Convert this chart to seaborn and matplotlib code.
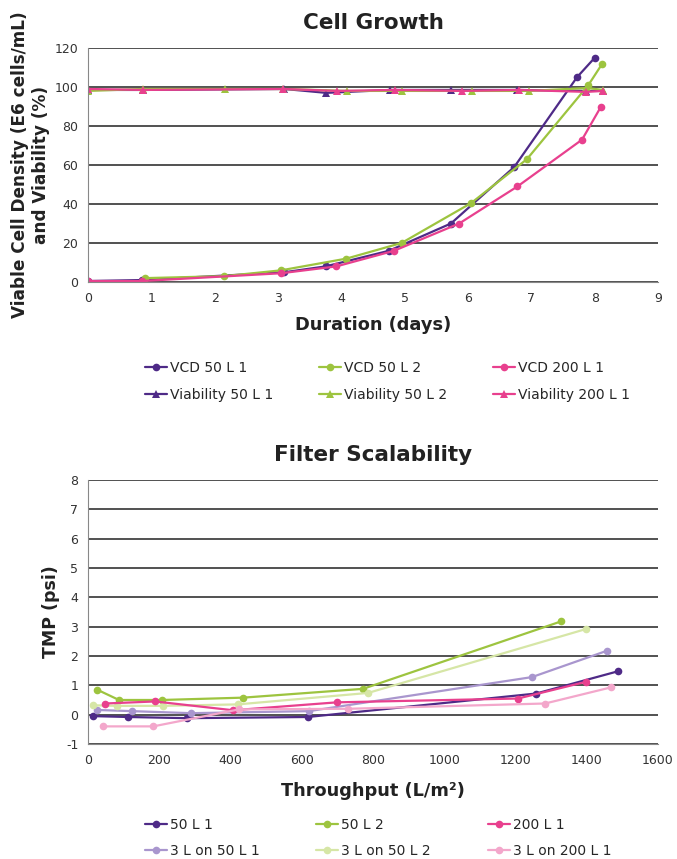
import matplotlib
matplotlib.use("Agg")
import matplotlib.pyplot as plt
import seaborn as sns

# Cell growth data (days, value)
vcd_50L1_day = [0, 0.85, 3.1, 3.75, 4.75, 5.73, 6.73, 7.72, 8.0]
vcd_50L1_val = [0.5, 1, 5, 8, 16, 30, 59, 105, 115]
vcd_50L2_day = [0.9, 2.15, 3.05, 4.08, 4.95, 6.05, 6.93, 7.9, 8.12]
vcd_50L2_val = [2, 3, 6, 12, 20, 40.5, 63, 101, 112]
vcd_200L1_day = [0, 0.85, 3.05, 3.92, 4.83, 5.86, 6.78, 7.8, 8.1]
vcd_200L1_val = [0.5, 0.5, 4.5, 8, 16, 30, 49, 73, 90]

via_50L1_day = [0, 0.87, 3.1, 3.76, 4.77, 5.73, 6.77, 7.87, 8.13]
via_50L1_val = [98.5, 98.5, 99, 97, 98.5, 98.5, 98.5, 98, 98]
via_50L2_day = [0, 0.87, 2.16, 3.08, 4.09, 4.96, 6.07, 6.97, 7.88, 8.13]
via_50L2_val = [98, 99, 99, 99, 98, 98, 98, 98, 99.5, 98.5]
via_200L1_day = [0, 0.87, 3.08, 3.93, 4.85, 5.9, 6.81, 7.87, 8.13]
via_200L1_val = [99, 98.5, 99, 98, 98.5, 98, 98.5, 97.5, 98]

# Filter scalability data (throughput L/m2, TMP psi)
f_50L1_x = [14, 113, 278, 617, 1258, 1488]
f_50L1_y = [-0.05, -0.08, -0.12, -0.08, 0.72, 1.48]
f_50L2_x = [26, 87, 207, 436, 772, 1328]
f_50L2_y = [0.85, 0.5, 0.5, 0.58, 0.88, 3.18]
f_200L1_x = [48, 188, 407, 699, 1207, 1398]
f_200L1_y = [0.38, 0.45, 0.15, 0.42, 0.55, 1.12]
f_3L50L1_x = [25, 123, 289, 620, 1246, 1457]
f_3L50L1_y = [0.16, 0.12, 0.05, 0.12, 1.28, 2.18]
f_3L50L2_x = [14, 81, 211, 421, 786, 1398]
f_3L50L2_y = [0.32, 0.3, 0.3, 0.35, 0.74, 2.92]
f_3L200L1_x = [42, 183, 424, 730, 1283, 1468]
f_3L200L1_y = [-0.4, -0.4, 0.18, 0.2, 0.38, 0.93]

purple = "#4E2A87"
green = "#9DC43F"
pink = "#E8408E"
lavender = "#A996CE"
palegreen = "#D6E6A6"
lightpink = "#F3A7CB"

sns.set_style("white")
plt.rcParams["font.family"] = ["DejaVu Sans"]
plt.rcParams["axes.unicode_minus"] = False

fig = plt.figure(figsize=(6.77, 8.59), dpi=100)
ax1 = fig.add_axes([0.130, 0.6717, 0.842, 0.2724])
ax2 = fig.add_axes([0.130, 0.1339, 0.842, 0.3073])

lw = 1.6
ms = 5.5

# --- Cell Growth ---
for xs, ys, c, lab in [
    (vcd_50L1_day, vcd_50L1_val, purple, "VCD 50 L 1"),
    (via_50L1_day, via_50L1_val, purple, "Viability 50 L 1"),
    (vcd_50L2_day, vcd_50L2_val, green, "VCD 50 L 2"),
    (via_50L2_day, via_50L2_val, green, "Viability 50 L 2"),
    (vcd_200L1_day, vcd_200L1_val, pink, "VCD 200 L 1"),
    (via_200L1_day, via_200L1_val, pink, "Viability 200 L 1"),
]:
    mk = "^" if lab.startswith("Viability") else "o"
    sns.lineplot(x=xs, y=ys, ax=ax1, color=c, marker=mk, markersize=ms,
                 markeredgewidth=0, linewidth=lw, label=lab)

ax1.set_xlim(0, 9)
ax1.set_ylim(0, 120)
ax1.set_xticks(range(0, 10))
ax1.set_yticks(range(0, 121, 20))
ax1.grid(axis="y", color="#222222", linewidth=1.1)
ax1.set_axisbelow(True)
ax1.set_title("Cell Growth", fontsize=15.5, fontweight="bold", pad=14,
              color="#222222")
ax1.set_xlabel("Duration (days)", fontsize=12.8, fontweight="bold",
               labelpad=8, color="#222222")
ax1.set_ylabel("Viable Cell Density (E6 cells/mL)\nand Viability (%)",
               fontsize=12.2, fontweight="bold", labelpad=3, color="#222222")

h, l = ax1.get_legend_handles_labels()
ax1.get_legend().remove()
fig.legend(h, l, loc="upper left", bbox_to_anchor=(0.195, 0.594), ncol=3,
           frameon=False, fontsize=10, handlelength=1.6, handletextpad=0.2,
           columnspacing=3.3, labelspacing=0.9)

# --- Filter Scalability ---
for xs, ys, c, lab in [
    (f_50L1_x, f_50L1_y, purple, "50 L 1"),
    (f_3L50L1_x, f_3L50L1_y, lavender, "3 L on 50 L 1"),
    (f_50L2_x, f_50L2_y, green, "50 L 2"),
    (f_3L50L2_x, f_3L50L2_y, palegreen, "3 L on 50 L 2"),
    (f_200L1_x, f_200L1_y, pink, "200 L 1"),
    (f_3L200L1_x, f_3L200L1_y, lightpink, "3 L on 200 L 1"),
]:
    sns.lineplot(x=xs, y=ys, ax=ax2, color=c, marker="o", markersize=ms,
                 markeredgewidth=0, linewidth=lw, label=lab)

ax2.set_xlim(0, 1600)
ax2.set_ylim(-1, 8)
ax2.set_xticks(range(0, 1601, 200))
ax2.set_yticks(range(-1, 9))
ax2.grid(axis="y", color="#222222", linewidth=1.1)
ax2.set_axisbelow(True)
ax2.set_title("Filter Scalability", fontsize=15.5, fontweight="bold", pad=14,
              color="#222222")
ax2.set_xlabel("Throughput (L/m²)", fontsize=12.8, fontweight="bold",
               labelpad=11, color="#222222")
ax2.set_ylabel("TMP (psi)", fontsize=12.5, fontweight="bold", labelpad=4,
               color="#222222")

h, l = ax2.get_legend_handles_labels()
ax2.get_legend().remove()
fig.legend(h, l, loc="upper left", bbox_to_anchor=(0.195, 0.0625), ncol=3,
           frameon=False, fontsize=10, handlelength=1.6, handletextpad=0.2,
           columnspacing=4.1, labelspacing=0.9)

for ax in (ax1, ax2):
    for s in ("top", "right"):
        ax.spines[s].set_visible(False)
    ax.spines["left"].set_color("#888888")
    ax.spines["bottom"].set_color("#888888")
    ax.tick_params(labelsize=9, colors="#333333", length=0, pad=7)

fig.savefig("out.png", dpi=100)
